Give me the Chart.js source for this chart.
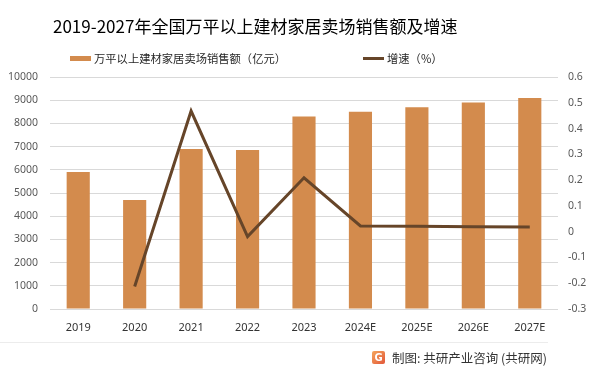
<!DOCTYPE html>
<html>
<head>
<meta charset="utf-8">
<script src="https://cdn.jsdelivr.net/npm/chart.js@4/dist/chart.umd.min.js"></script>
<style>
  body { margin: 0; background: #fff; }
  #wrap { position: relative; width: 601px; height: 374px; overflow: hidden; font-family: "Noto Sans CJK SC", "Noto Sans", sans-serif; }
  #chart { position: absolute; left: 0; top: 0; }
  .title { position: absolute; left: 53px; top: 15px; font-size: 17px; line-height: 22px; color: #000; white-space: nowrap; }
  .legend-item { position: absolute; top: 50px; height: 16px; display: flex; align-items: center; font-size: 11.3px; color: #262626; white-space: nowrap; }
  .legend-item .mark { display: inline-block; width: 21px; margin-right: 3px; }
  .footer-line { position: absolute; left: 0; top: 342px; width: 548px; height: 1px; background: #ececec; }
  .footer { position: absolute; left: 372px; top: 348px; height: 18px; display: flex; align-items: center; font-size: 12.5px; color: #333; white-space: nowrap; }
  .logo { display: inline-block; width: 13px; height: 13px; border-radius: 2px; background: linear-gradient(135deg, #f5a65b, #e2573a); color: #fff; font: bold 10px "DejaVu Sans", sans-serif; text-align: center; line-height: 13px; margin-right: 7px; }
</style>
</head>
<body>
<div id="wrap">
  <canvas id="chart" width="601" height="374"></canvas>
  <div class="title">2019-2027年全国万平以上建材家居卖场销售额及增速</div>
  <div class="legend-item" style="left:70px"><span class="mark" style="height:5px;background:#d38b4d"></span>万平以上建材家居卖场销售额（亿元）</div>
  <div class="legend-item" style="left:363px"><span class="mark" style="height:3px;background:#664529"></span>增速（%）</div>
  <div class="footer-line"></div>
  <div class="footer"><span class="logo">G</span>制图: 共研产业咨询 (共研网)</div>
</div>
<script>
// chart data
const years = ['2019', '2020', '2021', '2022', '2023', '2024E', '2025E', '2026E', '2027E'];
const sales = [5900, 4700, 6900, 6850, 8300, 8500, 8700, 8900, 9100];
const growth = [null, -0.213, 0.468, -0.019, 0.209, 0.022, 0.021, 0.019, 0.018];

Chart.defaults.font.family = "'Noto Sans', 'Noto Sans CJK SC', sans-serif";

const ctx = document.getElementById('chart');
new Chart(ctx.getContext('2d'), {
    data: {
        labels: years,
        datasets: [
            {
                type: 'line',
                label: '增速（%）',
                data: growth,
                yAxisID: 'y1',
                borderColor: '#664529',
                borderWidth: 3,
                pointRadius: 0,
                tension: 0,
                order: 0
            },
            {
                type: 'bar',
                label: '万平以上建材家居卖场销售额（亿元）',
                data: sales,
                yAxisID: 'y',
                backgroundColor: '#d38b4d',
                categoryPercentage: 1,
                barPercentage: 0.41,
                order: 1
            }
        ]
    },
    options: {
        responsive: false,
        animation: false,
        layout: {
            padding: { top: 77, left: 9, right: 0, bottom: 30 }
        },
        plugins: {
            legend: { display: false },
            tooltip: { enabled: false }
        },
        scales: {
            x: {
                grid: { display: false, drawTicks: false },
                border: { display: false },
                ticks: { color: '#333', padding: 12, font: { size: 11 } },
                afterFit: function(scale) { scale.height = 35; }
            },
            y: {
                position: 'left',
                min: 0,
                max: 10000,
                grid: { color: '#d9d9d9', drawTicks: false },
                border: { display: false },
                ticks: {
                    stepSize: 1000,
                    color: '#595959',
                    padding: 12,
                    font: { size: 10.5 },
                    callback: function(value) { return String(value); }
                },
                afterFit: function(scale) { scale.width = 41; }
            },
            y1: {
                position: 'right',
                min: -0.3,
                max: 0.6,
                grid: { display: false, drawTicks: false },
                border: { display: false },
                ticks: {
                    stepSize: 0.1,
                    color: '#595959',
                    padding: 10,
                    font: { size: 10.5 },
                    callback: function(value) {
                        return Math.abs(value) < 1e-9 ? '0' : value.toFixed(1);
                    }
                },
                afterFit: function(scale) { scale.width = 43; }
            }
        }
    }
});
</script>
</body>
</html>
